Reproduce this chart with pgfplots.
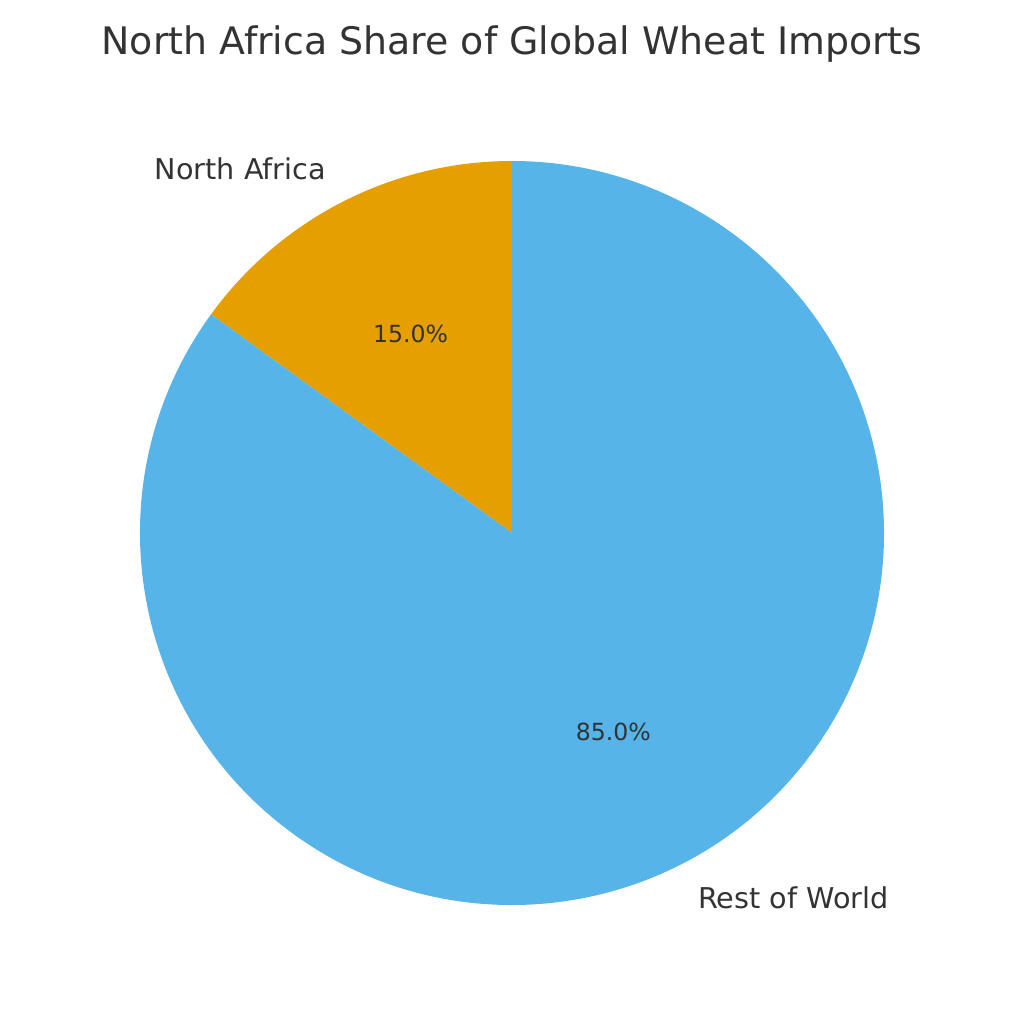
\documentclass[border=0pt]{standalone}
\usepackage{pgfplots}
\usepackage{pgfplotstable}
\pgfplotsset{compat=1.18}
\usepackage{fontspec}
\setmainfont{DejaVu Sans}

\definecolor{naorange}{HTML}{E69F00}
\definecolor{rowblue}{HTML}{56B4E9}
\definecolor{txtgray}{HTML}{333333}

% shares in percent
\pgfplotstableread[col sep=comma]{
label,share
North Africa,15
Rest of World,85
}\sharetable

\begin{document}
\begin{tikzpicture}
\pgfplotstablegetelem{0}{share}\of\sharetable \let\sA\pgfplotsretval
\pgfplotstablegetelem{1}{share}\of\sharetable \let\sB\pgfplotsretval
\pgfmathsetmacro\aA{90}
\pgfmathsetmacro\aB{90+3.6*\sA}
\pgfmathsetmacro\aC{\aB+3.6*\sB}
\pgfmathsetmacro\mA{(\aA+\aB)/2}
\pgfmathsetmacro\mB{(\aB+\aC)/2}
\def\R{279pt}
\begin{axis}[
    width=768pt, height=768pt,
    scale only axis,
    xmin=0, xmax=1024, ymin=0, ymax=1024,
    hide axis,
    clip=false,
]
\path (rel axis cs:0,0) rectangle (rel axis cs:1,1);
\fill[naorange] (axis cs:512,491) -- ++(\aA:\R) arc[start angle=\aA, end angle=\aB, radius=\R] -- cycle;
\fill[rowblue] (axis cs:512,491) -- ++(\aB:\R) arc[start angle=\aB, end angle=\aC, radius=\R] -- cycle;
\path (axis cs:512,491) ++(\mA:1.1*\R) node[anchor=east, inner sep=0pt, text=txtgray, font=\fontsize{21.5}{25}\selectfont] {North Africa};
\path (axis cs:512,491) ++(\mB:1.1*\R) node[anchor=west, inner sep=0pt, text=txtgray, font=\fontsize{21.5}{25}\selectfont] {Rest of World};
\path (axis cs:512,491) ++(\mA:0.6*\R) node[inner sep=0pt, text=txtgray, font=\fontsize{17.7}{21}\selectfont] {\pgfmathprintnumber[fixed,fixed zerofill,precision=1,assume math mode=true]{\sA}\%};
\path (axis cs:512,491) ++(\mB:0.6*\R) node[inner sep=0pt, text=txtgray, font=\fontsize{17.7}{21}\selectfont] {\pgfmathprintnumber[fixed,fixed zerofill,precision=1,assume math mode=true]{\sB}\%};
\node[anchor=base, text=txtgray, font=\fontsize{28.4}{34}\selectfont] at (axis cs:512,969) {North Africa Share of Global Wheat Imports};
\end{axis}
\end{tikzpicture}
\end{document}
